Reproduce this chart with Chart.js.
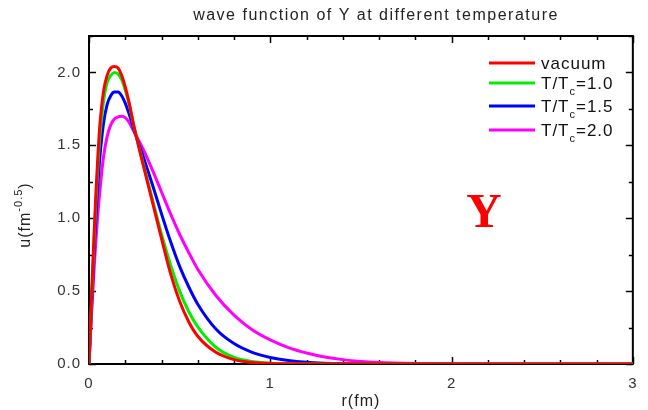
<!DOCTYPE html>
<html>
<head>
<meta charset="utf-8">
<script src="https://cdn.jsdelivr.net/npm/chart.js@4.4.0/dist/chart.umd.min.js"></script>
<style>
  html, body { margin: 0; padding: 0; background: #fff; }
  canvas { display: block; }
</style>
</head>
<body>
<canvas id="myChart" width="648" height="410"></canvas>
<script>
// r (fm) sample points
const R = [0, 0.01, 0.02, 0.03, 0.04, 0.05, 0.06, 0.08, 0.10, 0.12, 0.14, 0.16, 0.18, 0.20, 0.22, 0.25,
           0.30, 0.35, 0.40, 0.45, 0.50, 0.55, 0.60, 0.70, 0.80, 0.90, 1.0, 1.1, 1.2, 1.3, 1.4, 1.5,
           1.6, 1.8, 2.0, 2.5, 3.0];

// u(r) for each curve
const VACUUM = [0, 0.33, 0.65, 0.95, 1.22, 1.45, 1.64, 1.87, 1.98, 2.03, 2.04, 2.03, 1.98, 1.90, 1.80, 1.62,
                1.36, 1.11, 0.86, 0.62, 0.43, 0.29, 0.19, 0.08, 0.03, 0.01, 0.003, 0.001, 0, 0, 0, 0,
                0, 0, 0, 0, 0];
const TC10   = [0, 0.31, 0.62, 0.90, 1.16, 1.38, 1.56, 1.80, 1.93, 1.98, 2.00, 1.99, 1.95, 1.88, 1.79, 1.62,
                1.37, 1.13, 0.89, 0.68, 0.50, 0.36, 0.255, 0.115, 0.045, 0.017, 0.006, 0.002, 0, 0, 0, 0,
                0, 0, 0, 0, 0];
const TC15   = [0, 0.28, 0.56, 0.82, 1.05, 1.25, 1.42, 1.65, 1.78, 1.84, 1.865, 1.865, 1.84, 1.79, 1.72, 1.60,
                1.42, 1.23, 1.03, 0.84, 0.67, 0.53, 0.41, 0.24, 0.14, 0.08, 0.045, 0.024, 0.012, 0.006, 0.003, 0.001,
                0, 0, 0, 0, 0];
const TC20   = [0, 0.24, 0.47, 0.69, 0.88, 1.05, 1.19, 1.42, 1.56, 1.64, 1.68, 1.695, 1.70, 1.69, 1.66, 1.59,
                1.47, 1.33, 1.18, 1.03, 0.89, 0.765, 0.65, 0.47, 0.335, 0.235, 0.165, 0.112, 0.075, 0.048, 0.03, 0.018,
                0.011, 0.004, 0.001, 0, 0];

const SERIES = [
    {name: 'vacuum', sub: null, data: VACUUM, color: '#ff0000'},
    {name: 'T/T', sub: ['c', '=1.0'], data: TC10, color: '#00ee00'},
    {name: 'T/T', sub: ['c', '=1.5'], data: TC15, color: '#0000ff'},
    {name: 'T/T', sub: ['c', '=2.0'], data: TC20, color: '#ff00ff'}
];

const X_TICKS = [0, 1, 2, 3];
const Y_TICKS = [0, 0.5, 1.0, 1.5, 2.0];

const TEXT = '#333';
const SANS = '"Liberation Sans", Arial, sans-serif';

/**
 * Wider letter spacing for every text, set before anything is drawn.
 */
const spacingPlugin = {
    id: 'spacing',
    beforeDraw(chart) {
        chart.ctx.letterSpacing = '1px';
    }
};

/**
 * Frame and inward tick marks on all four sides.
 */
const framePlugin = {
    id: 'frame',
    beforeDatasetsDraw(chart) {
        const {ctx, chartArea: a, scales: {x, y}} = chart;
        ctx.save();
        ctx.strokeStyle = '#000';
        ctx.lineWidth = 1.5;
        for (let i = 0; i <= 15; i++) {
            const px = Math.round(x.getPixelForValue(i * 0.2)) + 0.5;
            const len = i % 5 === 0 ? 7 : 4;
            ctx.beginPath();
            ctx.moveTo(px, a.bottom); ctx.lineTo(px, a.bottom - len);
            ctx.moveTo(px, a.top); ctx.lineTo(px, a.top + len);
            ctx.stroke();
        }
        for (let i = 0; i <= 9; i++) {
            const py = Math.round(y.getPixelForValue(i * 0.25)) + 0.5;
            const len = i % 2 === 0 ? 7 : 4;
            ctx.beginPath();
            ctx.moveTo(a.left, py); ctx.lineTo(a.left + len, py);
            ctx.moveTo(a.right, py); ctx.lineTo(a.right - len, py);
            ctx.stroke();
        }
        ctx.lineWidth = 2;
        ctx.strokeRect(a.left, a.top, a.right - a.left, a.bottom - a.top);
        ctx.restore();
    }
};

/**
 * Title, axis titles with superscript, legend with subscript, and the big "Y" label.
 */
const textPlugin = {
    id: 'texts',
    afterDraw(chart) {
        const {ctx, chartArea: a} = chart;
        ctx.save();
        ctx.fillStyle = '#222';
        ctx.textBaseline = 'alphabetic';

        // title
        ctx.letterSpacing = '1.5px';
        ctx.font = '16px ' + SANS;
        ctx.textAlign = 'center';
        ctx.fillText('wave function of Y at different temperature', 376, 20);
        ctx.letterSpacing = '1px';

        // x title
        ctx.font = '16px ' + SANS;
        ctx.fillText('r(fm)', (a.left + a.right) / 2, 406);

        // y title, rotated, with superscript
        ctx.translate(30, 215);
        ctx.rotate(-Math.PI / 2);
        ctx.textAlign = 'left';
        const big = '16px ' + SANS, small = '11px ' + SANS;
        ctx.font = big; const w1 = ctx.measureText('u(fm').width;
        ctx.font = small; const w2 = ctx.measureText('-0.5').width;
        ctx.font = big; const w3 = ctx.measureText(')').width;
        let sx = -(w1 + w2 + w3) / 2;
        ctx.fillText('u(fm', sx, 0); sx += w1;
        ctx.font = small; ctx.fillText('-0.5', sx, -8); sx += w2;
        ctx.font = big; ctx.fillText(')', sx, 0);
        ctx.setTransform(1, 0, 0, 1, 0, 0);

        // legend
        const rows = [63, 83, 106, 130];
        SERIES.forEach((s, i) => {
            const ly = rows[i];
            ctx.strokeStyle = s.color;
            ctx.lineWidth = 3;
            ctx.beginPath();
            ctx.moveTo(489, ly); ctx.lineTo(535, ly);
            ctx.stroke();
            ctx.fillStyle = '#111';
            ctx.font = '17px ' + SANS;
            ctx.textAlign = 'left';
            let tx = 541;
            ctx.fillText(s.name, tx, ly + 6);
            tx += ctx.measureText(s.name).width;
            if (s.sub) {
                ctx.font = '11px ' + SANS;
                ctx.fillText(s.sub[0], tx, ly + 12);
                tx += ctx.measureText(s.sub[0]).width;
                ctx.font = '17px ' + SANS;
                ctx.fillText(s.sub[1], tx, ly + 6);
            }
        });

        // big Y
        ctx.letterSpacing = '0px';
        ctx.fillStyle = '#ff0000';
        ctx.font = 'bold 49px "Liberation Serif", "Times New Roman", serif';
        ctx.textAlign = 'center';
        ctx.fillText('Y', 484, 227);
        ctx.restore();
    }
};

const ctx = document.getElementById('myChart').getContext('2d');
new Chart(ctx, {
    type: 'line',
    data: {
        datasets: SERIES.map(s => ({
            label: s.name + (s.sub ? s.sub.join('') : ''),
            data: R.map((r, i) => ({x: r, y: s.data[i]})),
            borderColor: s.color,
            backgroundColor: s.color,
            borderWidth: 3,
            pointRadius: 0,
            cubicInterpolationMode: 'monotone',
            fill: false
        }))
    },
    options: {
        responsive: false,
        animation: false,
        layout: {padding: {left: 0, right: 5, top: 36, bottom: 0}},
        plugins: {
            legend: {display: false},
            title: {display: false},
            tooltip: {enabled: false}
        },
        scales: {
            x: {
                type: 'linear',
                min: 0,
                max: 3,
                afterBuildTicks: s => { s.ticks = X_TICKS.map(v => ({value: v})); },
                ticks: {padding: 11, color: TEXT, font: {family: SANS, size: 15}, maxRotation: 0,
                        callback: v => String(v)},
                grid: {display: false, drawTicks: false},
                border: {display: false},
                afterFit: s => { s.height = 46; }
            },
            y: {
                min: 0,
                max: 2.25,
                afterBuildTicks: s => { s.ticks = Y_TICKS.map(v => ({value: v})); },
                ticks: {padding: 8, color: TEXT, font: {family: SANS, size: 15},
                        callback: v => v.toFixed(1)},
                grid: {display: false, drawTicks: false},
                border: {display: false},
                afterFit: s => { s.width = 89; }
            }
        }
    },
    plugins: [spacingPlugin, framePlugin, textPlugin]
});
</script>
</body>
</html>
